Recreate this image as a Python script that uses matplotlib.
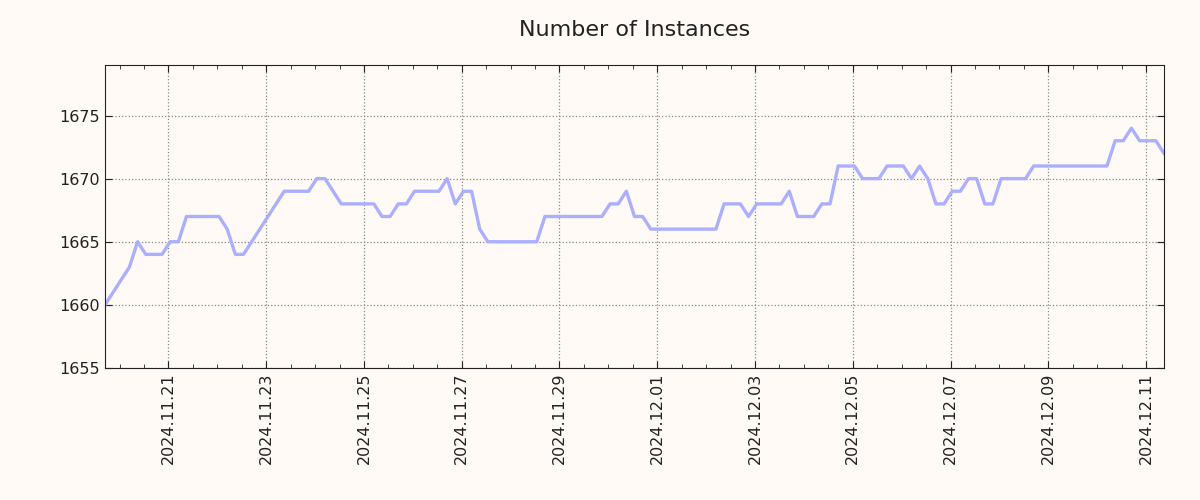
import numpy as np
import pandas as pd
import matplotlib
matplotlib.use("Agg")
import matplotlib.pyplot as plt
import matplotlib.dates as mdates

# ---- data (one sample every 4 h) ----
START = "2024-11-19 16:50"
STEP = "4h"
instances = [
    1660, 1661, 1662, 1663, 1665, 1664, 1664, 1664, 1665, 1665,
    1667, 1667, 1667, 1667, 1667, 1666, 1664, 1664, 1665, 1666,
    1667, 1668, 1669, 1669, 1669, 1669, 1670, 1670, 1669, 1668,
    1668, 1668, 1668, 1668, 1667, 1667, 1668, 1668, 1669, 1669,
    1669, 1669, 1670, 1668, 1669, 1669, 1666, 1665, 1665, 1665,
    1665, 1665, 1665, 1665, 1667, 1667, 1667, 1667, 1667, 1667,
    1667, 1667, 1668, 1668, 1669, 1667, 1667, 1666, 1666, 1666,
    1666, 1666, 1666, 1666, 1666, 1666, 1668, 1668, 1668, 1667,
    1668, 1668, 1668, 1668, 1669, 1667, 1667, 1667, 1668, 1668,
    1671, 1671, 1671, 1670, 1670, 1670, 1671, 1671, 1671, 1670,
    1671, 1670, 1668, 1668, 1669, 1669, 1670, 1670, 1668, 1668,
    1670, 1670, 1670, 1670, 1671, 1671, 1671, 1671, 1671, 1671,
    1671, 1671, 1671, 1671, 1673, 1673, 1674, 1673, 1673, 1673,
    1672,
]
y_ticks = [1655, 1660, 1665, 1670, 1675]

times = pd.date_range(START, periods=len(instances), freq=STEP)

BG = "#fffaf5"
LINE = "#aab0ff"

fig = plt.figure(figsize=(12, 5), dpi=100, facecolor=BG)
ax = fig.add_axes([0.0875, 0.264, 0.8825, 0.606], facecolor=BG)

ax.plot(times, instances, color=LINE, lw=2.4)

ax.set_xlim(times[0], times[-1])
ax.set_ylim(1655, 1679)
ax.set_yticks(y_ticks)

ax.xaxis.set_major_locator(mdates.DayLocator(bymonthday=range(1, 32, 2)))
ax.xaxis.set_minor_locator(mdates.HourLocator(byhour=[0, 12]))
ax.xaxis.set_major_formatter(mdates.DateFormatter("%Y.%m.%d"))

ax.tick_params(axis="both", which="both", direction="in",
               top=True, right=True, labelsize=11.5, colors="#222222")
ax.tick_params(axis="x", which="major", length=5, rotation=90)
ax.tick_params(axis="x", which="minor", length=3)
ax.tick_params(axis="y", which="major", length=5)

ax.grid(True, which="major", linestyle=":", color="#8a8a8a", lw=0.9)
for sp in ax.spines.values():
    sp.set_color("#222222")

ax.set_title("Number of Instances", fontsize=16, pad=21, color="#222222")

fig.savefig("out.png", dpi=100, facecolor=BG)
